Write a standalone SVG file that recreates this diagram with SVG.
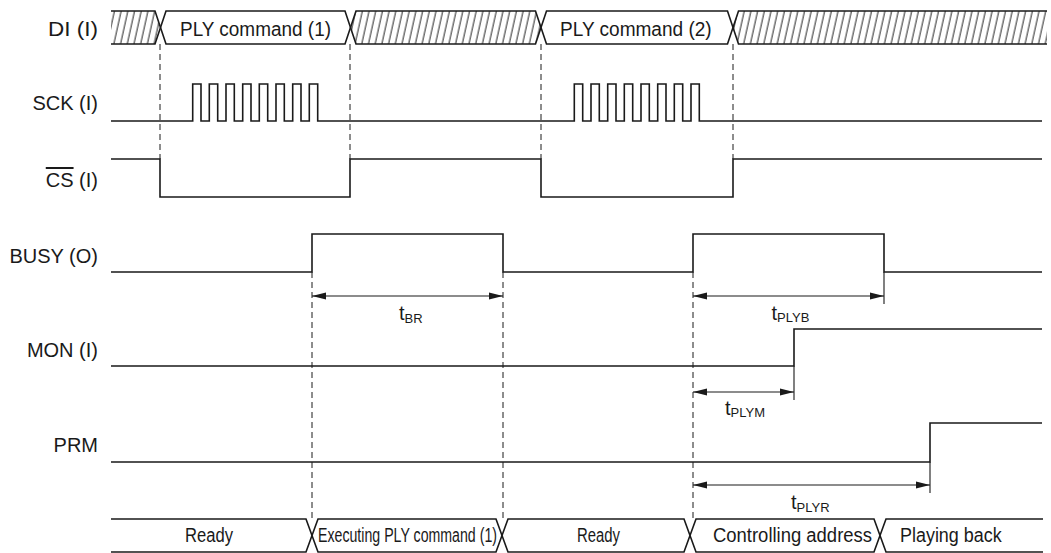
<svg xmlns="http://www.w3.org/2000/svg" width="1051" height="553" viewBox="0 0 1051 553">
<style>
.sig{fill:none;stroke:#1a1a1a;stroke-width:1.6}
.dash{fill:none;stroke:#1a1a1a;stroke-width:1;stroke-dasharray:6 4}
.arr{fill:none;stroke:#1a1a1a;stroke-width:1.1;marker-start:url(#ah);marker-end:url(#ah)}
.tick{fill:none;stroke:#1a1a1a;stroke-width:1.1}
text{font-family:"Liberation Sans",Arial,sans-serif;font-size:20px;fill:#1a1a1a}
.lbl{text-anchor:end}
.sub{font-size:13px}
</style>
<defs>
<pattern id="hatch" patternUnits="userSpaceOnUse" width="6.7" height="40" patternTransform="skewX(-12.5)">
<line x1="3" y1="-5" x2="3" y2="45" stroke="#222" stroke-width="1"/>
</pattern>
<marker id="ah" markerUnits="userSpaceOnUse" viewBox="0 0 14 8" refX="14" refY="4" markerWidth="14" markerHeight="8" orient="auto-start-reverse">
<path d="M0,0.5 L14,4 L0,7.5 Z" fill="#1a1a1a"/>
</marker>
</defs>

<g id="DI">
<text class="lbl" x="98" y="35.5" textLength="50" lengthAdjust="spacingAndGlyphs">DI (I)</text>
<polygon points="111,11 155,11 160.5,27.5 155,44 111,44" fill="url(#hatch)"/>
<polygon points="356,11 535.5,11 541,27.5 535.5,44 356,44 350.5,27.5" fill="url(#hatch)"/>
<polygon points="738.5,11 1047,11 1047,44 738.5,44 733,27.5" fill="url(#hatch)"/>
<path class="sig" d="M111,11 H155 L166,44 H345 L356,11 H535.5 L546.5,44 H727.5 L738.5,11 H1047"/>
<path class="sig" d="M111,44 H155 L166,11 H345 L356,44 H535.5 L546.5,11 H727.5 L738.5,44 H1047"/>
<text x="180" y="36" textLength="151" lengthAdjust="spacingAndGlyphs">PLY command (1)</text>
<text x="560" y="36" textLength="151.7" lengthAdjust="spacingAndGlyphs">PLY command (2)</text>
</g>

<g id="SCK">
<text class="lbl" x="98" y="110">SCK (I)</text>
<path class="sig" d="M111,121 H192.7 V84 H201 V121 H209.3 V84 H217.7 V121 H226 V84 H234.3 V121 H242.7 V84 H251 V121 H259.3 V84 H267.7 V121 H276 V84 H284.3 V121 H292.7 V84 H301 V121 H309.3 V84 H317.7 V121 H574.3 V84 H582.7 V121 H591 V84 H599.3 V121 H607.7 V84 H616 V121 H624.3 V84 H632.7 V121 H641 V84 H649.3 V121 H657.7 V84 H666 V121 H674.3 V84 H682.7 V121 H691 V84 H699.3 V121 H1042"/>
</g>

<g id="CS">
<text class="lbl" x="98" y="187"><tspan text-decoration="overline">CS</tspan> (I)</text>
<path class="sig" d="M111,159 H160 V197 H350 V159 H541 V197 H733 V159 H1042"/>
</g>

<g id="BUSY">
<text class="lbl" x="98" y="263">BUSY (O)</text>
<path class="sig" d="M111,272 H312 V234 H503 V272 H693 V234 H884 V272 H1042"/>
</g>

<g id="MON">
<text class="lbl" x="98" y="357">MON (I)</text>
<path class="sig" d="M111,366 H794 V329 H1042"/>
</g>

<g id="PRM">
<text class="lbl" x="98" y="452">PRM</text>
<path class="sig" d="M111,462 H930 V423 H1042"/>
</g>

<g id="STATE">
<path class="sig" d="M111,519 H306 L318,552 H496 L508,519 H684 L696,552 H874 L886,519 H1043"/>
<path class="sig" d="M111,552 H306 L318,519 H496 L508,552 H684 L696,519 H874 L886,552 H1043"/>
<text x="185" y="542" textLength="48" lengthAdjust="spacingAndGlyphs">Ready</text>
<text x="318" y="542" textLength="179" lengthAdjust="spacingAndGlyphs">Executing PLY command (1)</text>
<text x="577" y="542" textLength="43" lengthAdjust="spacingAndGlyphs">Ready</text>
<text x="713" y="542" textLength="159" lengthAdjust="spacingAndGlyphs">Controlling address</text>
<text x="900" y="542" textLength="101.7" lengthAdjust="spacingAndGlyphs">Playing back</text>
</g>

<g id="connectors">
<path class="dash" d="M160,44 V159 M350,44 V159 M541,44 V159 M733,44 V159 M312,272 V519 M503,272 V519 M693,272 V519"/>
<path class="tick" d="M884,272 V304 M794,366 V400 M930,462 V493"/>
<path class="arr" d="M312,296 H503"/>
<path class="arr" d="M693,296 H884"/>
<path class="arr" d="M693,392 H794"/>
<path class="arr" d="M693,485 H930"/>
<text x="399" y="320">t<tspan class="sub" dy="3">BR</tspan></text>
<text x="771.5" y="320">t<tspan class="sub" dy="2">PLYB</tspan></text>
<text x="725" y="415">t<tspan class="sub" dy="2">PLYM</tspan></text>
<text x="791" y="509">t<tspan class="sub" dy="3">PLYR</tspan></text>
</g>
</svg>
